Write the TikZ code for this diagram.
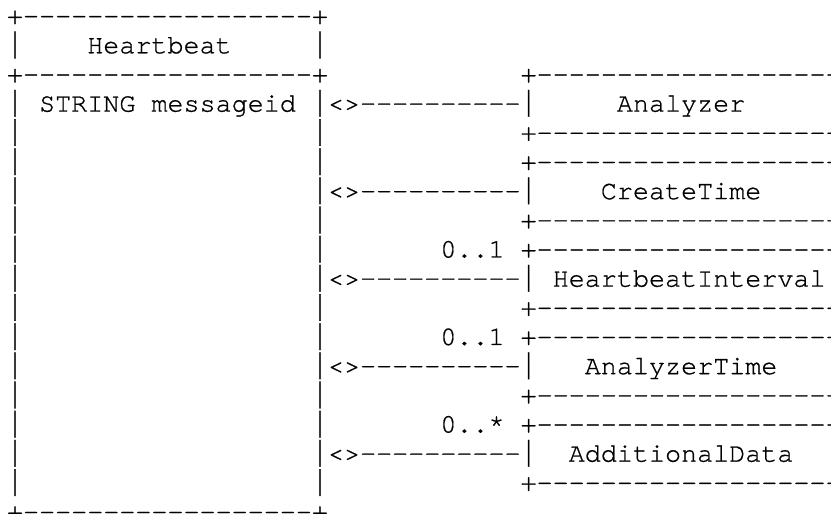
\documentclass[tikz,border=0pt]{standalone}
\usepackage{fontspec}
\usepackage{graphicx}
\setmonofont{texgyrecursor-regular.otf}[FakeBold=0.8]
\tikzset{
  x=1pt, y=1pt,
  ascii/.style={anchor=base west, inner sep=0pt, outer sep=0pt,
    font=\ttfamily\fontsize{26.75pt}{29pt}\selectfont, text=black}
}
% Courier-New-like tall bar glyph: spans -0.19em .. 0.81em
\newcommand{\vb}{\raisebox{-0.19em}{\resizebox*{0.6em}{1em}{\raisebox{\depth}{|}}}}
% column / row to position
\newcommand{\cw}{16.05}
\newcommand{\lh}{29.17}
\newcommand{\cell}[4]{\node[ascii] (#1) at ({7+#2*\cw},{-(24.1+(#3-1)*\lh)}) {#4};}
\begin{document}
\begin{tikzpicture}
\useasboundingbox (0,0) rectangle (831,-514);
\clip (0,0) rectangle (831,-514);
% Heartbeat class box
\cell{hbtop}{0}{1}{+------------------+}
\cell{hbl2}{0}{2}{\vb}
\cell{hbname}{5}{2}{Heartbeat}
\cell{hbr2}{19}{2}{\vb}
\cell{hbsep}{0}{3}{+------------------+}
\cell{hbl4}{0}{4}{\vb}
\cell{hbattr}{2}{4}{STRING messageid}
\foreach \r in {5,...,17}{
  \cell{hbl\r}{0}{\r}{\vb}
}
\foreach \r in {5,6,8,9,11,12,14,15,17}{
  \cell{hbr\r}{19}{\r}{\vb}
}
\cell{hbbot}{0}{18}{+------------------+}
% aggregation connectors
\cell{agg1}{19}{4}{\vb<>----------\vb}
\cell{agg2}{19}{7}{\vb<>----------\vb}
\cell{agg3}{19}{10}{\vb<>----------\vb}
\cell{agg4}{19}{13}{\vb<>----------\vb}
\cell{agg5}{19}{16}{\vb<>----------\vb}
% multiplicities
\cell{m3}{27}{9}{0..1}
\cell{m4}{27}{12}{0..1}
\cell{m5}{27}{15}{0..*}
% right-hand class boxes
\foreach \r in {3,5,6,8,9,11,12,14,15,17}{
  \cell{rb\r}{32}{\r}{+-------------------+}
}
\cell{analyzer}{38}{4}{Analyzer}
\cell{createtime}{37}{7}{CreateTime}
\cell{hbinterval}{34}{10}{HeartbeatInterval}
\cell{analyzertime}{36}{13}{AnalyzerTime}
\cell{additionaldata}{35}{16}{AdditionalData}
\end{tikzpicture}
\end{document}
